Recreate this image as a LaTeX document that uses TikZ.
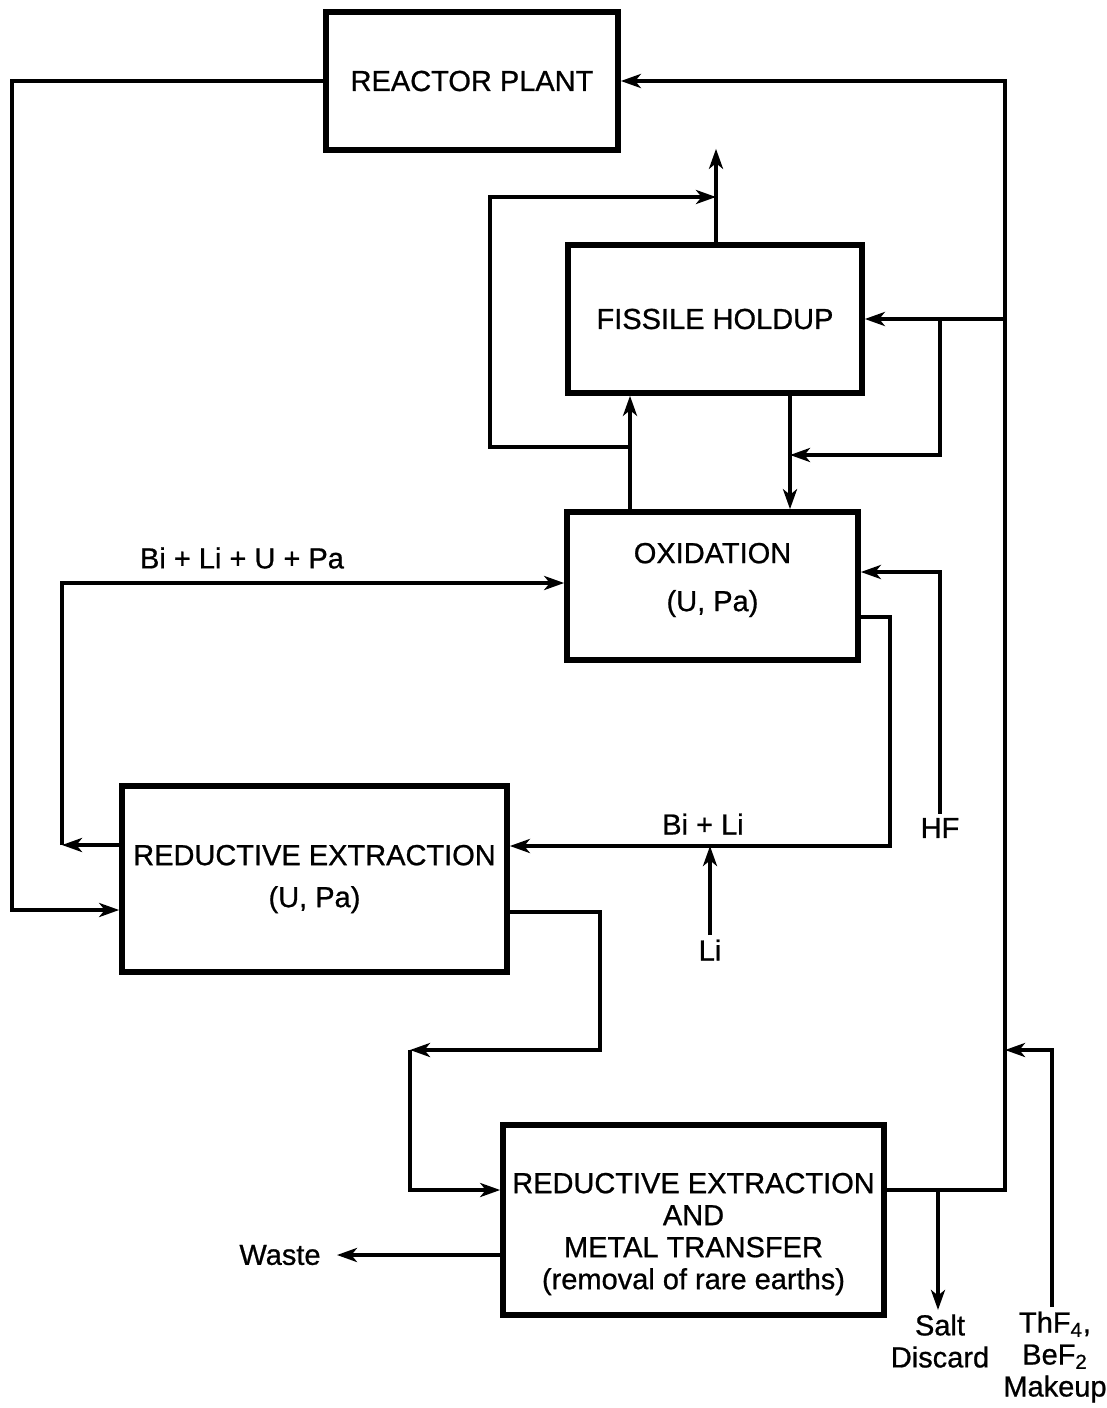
\documentclass[tikz,border=0pt]{standalone}
\usepackage{fontspec}
\setmainfont{Liberation Sans}[UprightFeatures={FakeBold=0.8}]
\usetikzlibrary{arrows.meta,positioning,calc}
\tikzset{
  >={Stealth[length=10pt,width=7pt,inset=2.8pt]},
  box/.style ={draw,line width=2.8pt,align=center,inner sep=2pt,font=\fontsize{14.5}{16}\selectfont},
  ar/.style  ={->,line width=1.9pt},
  lbl/.style ={align=center,inner sep=2pt,font=\fontsize{14.5}{16}\selectfont},
}
\begin{document}
\begin{tikzpicture}[x=0.5pt,y=-0.5pt]
\useasboundingbox (0,0) rectangle (1107,1408);
% process boxes
\node[box,minimum width=146pt,minimum height=69pt] (rp) at (472,81) {REACTOR PLANT};
\node[box,minimum width=147pt,minimum height=74pt] (fh) at (715,319) {FISSILE HOLDUP};
\node[box,minimum width=145.5pt,minimum height=74pt,
  label={[lbl,yshift=3pt]center:OXIDATION\\[8pt](U, Pa)}] (ox) at (712.5,586) {};
\node[box,minimum width=192.5pt,minimum height=93pt] (re) at (314.5,879) {REDUCTIVE EXTRACTION\\[5pt](U, Pa)};
\node[box,minimum width=190.5pt,minimum height=95pt,
  label={[lbl,yshift=-7pt]center:REDUCTIVE EXTRACTION\\AND\\METAL TRANSFER\\(removal of rare earths)}]
  (mt) at (693.5,1220) {};
% labels
\node[lbl] (bilup) at (242,558) {Bi + Li + U + Pa};
\node[lbl] (bili) at (703,824) {Bi + Li};
\node[lbl] (hf) at (940,828) {HF};
\node[lbl] (li) at (710,950) {Li};
\node[lbl] (waste) at (280,1255) {Waste};
\node[lbl] (salt) at (940,1341) {Salt\\Discard};
\node[lbl] (mkup) at (1055,1357) {ThF\textsubscript{4},\\BeF\textsubscript{2}\\Makeup};
% bend points
\coordinate (lA) at (12,910);
\coordinate (bl) at (62,845);
\coordinate (tl) at (62,583);
\coordinate (oxa) at (630,447);
\coordinate (tb) at (490,197);
\coordinate (up) at (716,197);
\coordinate (fhb) at (790,455);
\coordinate (rt) at (1005,1190);
\coordinate (rb) at (940,319);
\coordinate (hfc) at (940,572);
\coordinate (ob) at (890,617);
\coordinate (ob2) at (890,846);
\coordinate (rr) at (600,912);
\coordinate (rr2) at (410,1050);
\coordinate (sd) at (938,1190);
\coordinate (mkc) at (1052,1050);
% connectors
\draw[ar] (rp.west) -| (lA) -- (re.west |- lA);
\draw[ar] (re.west |- bl) -- (bl);
\draw[ar] (bl) -- (tl) -- (ox.west |- tl);
\draw[ar] (ox.north -| oxa) -- (fh.south -| oxa);
\draw[ar] (oxa) -- (tb |- oxa) -- (tb) -- (up);
\draw[ar,shorten >=-2pt] (fh.north -| up) -- (rp.south -| up);
\draw[ar] (fh.south -| fhb) -- (ox.north -| fhb);
\draw[ar] (mt.east |- rt) -- (rt) -- (rt |- rp.east) -- (rp.east);
\draw[ar] (rt |- fh.east) -- (fh.east);
\draw[ar] (rb) -- (rb |- fhb) -- (fhb);
\draw[ar] (hf.north) -- (hfc) -- (ox.east |- hfc);
\draw[ar] (ox.east |- ob) -- (ob) -- (ob2) -- (re.east |- ob2);
\draw[ar] (li.north) -- (li.north |- ob2);
\draw[ar] (re.east |- rr) -- (rr) -- (rr |- rr2) -- (rr2);
\draw[ar] (rr2) -- (rr2 |- rt) -- (mt.west |- rt);
\draw[ar,shorten >=6pt] (mt.west |- waste) -- (waste.east);
\draw[ar] (sd) -- (sd |- salt.north);
\draw[ar] (mkup.north -| mkc) -- (mkc) -- (rt |- mkc);
\end{tikzpicture}
\end{document}
